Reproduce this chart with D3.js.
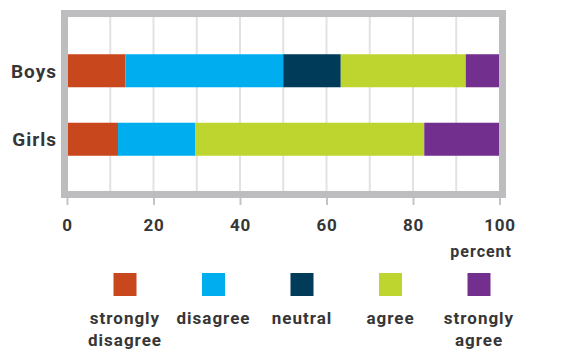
<!DOCTYPE html>
<html>
<head>
<meta charset="utf-8">
<script src="https://cdn.jsdelivr.net/npm/d3@7"></script>
<style>
    body { margin: 0; background: #fff; }
    text { font-family: Roboto, "Liberation Sans", sans-serif; font-weight: 700; fill: #363636; }
</style>
</head>
<body>
<div id="chart"></div>
<script>
// Data (percent)
const groups = ['Boys', 'Girls'];
const answers = ['strongly disagree', 'disagree', 'neutral', 'agree', 'strongly agree'];
const boysValues = [13.5, 36.5, 13.3, 28.9, 7.8];
const girlsValues = [11.8, 17.9, 0, 52.9, 17.4];
const colors = ['#c8471d', '#00aeef', '#003b5a', '#bfd52f', '#722f8e'];
const xTicks = [0, 20, 40, 60, 80, 100];
const gridTicks = [10, 20, 30, 40, 50, 60, 70, 80, 90];

const width = 570, height = 352;

const svg = d3.select('#chart')
    .append('svg')
    .attr('width', width)
    .attr('height', height);

// Scales
const xScale = d3.scaleLinear()
    .domain([0, 100])
    .range([67, 499.5]);

const yScale = d3.scaleBand()
    .domain(groups)
    .range([20, 190])
    .paddingInner(0.518)
    .paddingOuter(0.5);

const colorScale = d3.scaleOrdinal()
    .domain(answers)
    .range(colors);

// Build stacked rows
const rows = groups.map((g, i) => {
    const vals = i === 0 ? boysValues : girlsValues;
    const row = { group: g };
    answers.forEach((a, j) => { row[a] = vals[j]; });
    return row;
});
const series = d3.stack().keys(answers)(rows);

// Grid
svg.append('g')
    .selectAll('line')
    .data(gridTicks)
    .join('line')
    .attr('x1', d => xScale(d))
    .attr('x2', d => xScale(d))
    .attr('y1', 16)
    .attr('y2', 192)
    .attr('stroke', '#e2e2e4')
    .attr('stroke-width', 2);

// Bars
svg.append('g')
    .selectAll('g')
    .data(series)
    .join('g')
    .attr('fill', d => colorScale(d.key))
    .selectAll('rect')
    .data(d => d)
    .join('rect')
    .attr('x', d => xScale(d[0]))
    .attr('y', d => yScale(d.data.group))
    .attr('width', d => xScale(d[1]) - xScale(d[0]))
    .attr('height', yScale.bandwidth());

// Frame
svg.append('rect')
    .attr('x', 64.5)
    .attr('y', 13.5)
    .attr('width', 438)
    .attr('height', 181)
    .attr('fill', 'none')
    .attr('stroke', '#bdbdc0')
    .attr('stroke-width', 7);

// Group labels
svg.append('g')
    .selectAll('text')
    .data(groups)
    .join('text')
    .attr('x', 57)
    .attr('y', d => yScale(d) + yScale.bandwidth() / 2)
    .attr('dy', '0.36em')
    .attr('text-anchor', 'end')
    .style('font-size', '19px')
    .style('letter-spacing', '1px')
    .text(d => d);

// X axis
const xAxis = svg.append('g')
    .attr('transform', 'translate(0,198)')
    .call(d3.axisBottom(xScale).tickValues(xTicks).tickSize(7).tickPadding(14));
xAxis.select('.domain').remove();
xAxis.selectAll('.tick line').attr('stroke', '#c4c4c6').attr('stroke-width', 2);
xAxis.selectAll('.tick text')
    .attr('fill', '#363636')
    .style('font-size', '17px')
    .style('font-family', 'Roboto, sans-serif')
    .style('font-weight', 700)
    .style('letter-spacing', '0.8px');

svg.append('text')
    .attr('x', 512)
    .attr('y', 257)
    .attr('text-anchor', 'end')
    .style('font-size', '16px')
    .style('letter-spacing', '1px')
    .text('percent');

// Legend
const legendX = d3.scalePoint()
    .domain(answers)
    .range([125, 479]);

const legend = svg.append('g')
    .selectAll('g')
    .data(answers)
    .join('g')
    .attr('transform', d => `translate(${legendX(d)},0)`);

legend.append('rect')
    .attr('x', -11.5)
    .attr('y', 273)
    .attr('width', 23)
    .attr('height', 23)
    .attr('fill', d => colorScale(d));

legend.append('text')
    .attr('text-anchor', 'middle')
    .attr('y', 324)
    .style('font-size', '17px')
    .style('letter-spacing', '1px')
    .selectAll('tspan')
    .data(d => d.split(' '))
    .join('tspan')
    .attr('x', 0)
    .attr('dy', (d, i) => i === 0 ? 0 : 22)
    .text(d => d);
</script>
</body>
</html>
